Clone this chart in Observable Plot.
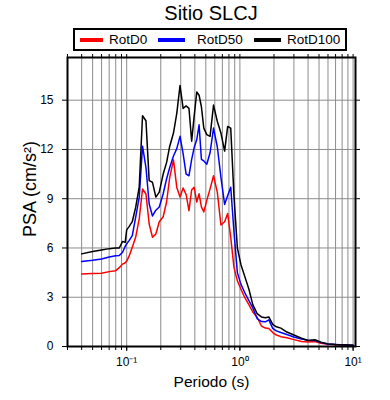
<!DOCTYPE html>
<html>
<head>
<meta charset="utf-8">
<script src="https://cdn.jsdelivr.net/npm/d3@7"></script>
<script src="https://cdn.jsdelivr.net/npm/@observablehq/plot@0.6"></script>
<style>
  body { margin: 0; background: #fff; font-family: "Liberation Sans", Arial, sans-serif; }
  #wrap { position: relative; width: 390px; height: 400px; overflow: hidden; }
  #title { position: absolute; left: 67px; width: 288px; top: 1px; text-align: center; font-size: 20px; line-height: 24px; color: #000; }
  #legend { position: absolute; left: 73px; top: 28px; width: 274px; height: 23px; border: 2px solid #000; box-sizing: border-box; font-size: 13.5px; }
  .sw { position: absolute; top: 8px; height: 4px; width: 24px; }
  .lb { position: absolute; top: 2px; line-height: 16px; }
  #chart { position: absolute; left: 0; top: 52px; }
</style>
</head>
<body>
<div id="wrap">
  <div id="title">Sitio SLCJ</div>
  <div id="legend"></div>
  <div id="chart"></div>
</div>
<script>
// Periods (s)
const periods = [0.04, 0.05, 0.06, 0.07, 0.08, 0.086, 0.092, 0.097, 0.1, 0.105,
  0.112, 0.12, 0.129, 0.138, 0.148, 0.158, 0.169, 0.181, 0.194, 0.21,
  0.225, 0.24, 0.259, 0.277, 0.296, 0.315, 0.335, 0.355, 0.375, 0.394,
  0.416, 0.436, 0.457, 0.48, 0.51, 0.545, 0.585, 0.632, 0.68, 0.733,
  0.78, 0.83, 0.886, 0.95, 1.02, 1.1, 1.2, 1.3, 1.42, 1.55,
  1.68, 1.8, 1.95, 2.1, 2.3, 2.6, 3.0, 3.5, 4.0, 4.6,
  5.2, 6.0, 7.0, 8.5, 10];

const rotD0 = [4.42, 4.44, 4.46, 4.56, 4.62, 4.8, 5.02, 5.1, 5.2, 5.5,
  6.05, 6.65, 7.77, 9.59, 9.29, 7.46, 6.65, 6.85, 7.6, 7.9,
  8.8, 10.3, 11.36, 9.69, 9.1, 9.65, 9.25, 8.27, 9.55, 9.7,
  8.8, 9.3, 8.5, 8.2, 8.9, 9.6, 10.4, 9.39, 7.4, 7.6,
  8.1, 6.65, 4.82, 4.0, 3.5, 3.0, 2.55, 2.1, 1.78, 1.25,
  1.12, 1.1, 0.85, 0.7, 0.6, 0.53, 0.42, 0.3, 0.28, 0.3,
  0.2, 0.14, 0.1, 0.08, 0.06];

const rotD50 = [5.17, 5.25, 5.33, 5.45, 5.52, 5.54, 5.74, 6.1, 6.25, 6.45,
  6.75, 7.86, 9.08, 12.2, 10.9, 8.68, 7.95, 8.3, 8.5, 9.3,
  10.2, 10.9, 11.6, 12.05, 12.8, 11.75, 10.5, 10.4, 11.4, 12.1,
  12.6, 13.5, 11.4, 11.3, 11.1, 11.8, 13.3, 12.15, 10.3, 8.65,
  9.2, 9.7, 7.0, 4.5, 3.8, 3.3, 2.8, 2.35, 1.7, 1.52,
  1.5, 1.62, 1.1, 0.95, 0.85, 0.73, 0.58, 0.45, 0.38, 0.36,
  0.24, 0.15, 0.12, 0.09, 0.08];

const rotD100 = [5.64, 5.78, 5.88, 5.96, 6.0, 6.0, 6.4, 6.34, 7.1, 7.3,
  7.6, 8.47, 9.7, 14.05, 13.75, 10.1, 10.0, 9.1, 9.4, 10.5,
  11.2, 12.2, 13.0, 14.2, 15.9, 14.5, 14.65, 14.5, 12.5, 14.0,
  15.5, 15.3, 14.6, 13.3, 12.9, 12.8, 14.7, 13.7, 13.0, 11.9,
  13.4, 13.3, 9.2, 6.0, 5.0, 4.3, 3.5, 2.55, 2.0, 1.8,
  1.75, 1.8, 1.35, 1.2, 1.12, 0.88, 0.7, 0.5, 0.37, 0.41,
  0.26, 0.16, 0.12, 0.1, 0.08];

const seriesNames = ["RotD0", "RotD50", "RotD100"];
const seriesColors = ["#ff0000", "#0000ff", "#000000"];
const seriesValues = [rotD0, rotD50, rotD100];

const yTicks = [0, 3, 6, 9, 12, 15];
const xMajor = [0.1, 1, 10];
const xMajorLabels = ["10\u207B\u00B9", "10\u2070", "10\u00B9"];
const xMinor = [];
for (const e of [-2, -1, 0]) for (let m = 1; m <= 9; m++) {
  const v = m * Math.pow(10, e);
  if (v >= 0.03) xMinor.push(+v.toPrecision(3));
}
xMinor.push(10);

const data = [];
seriesNames.forEach((name, i) => {
  periods.forEach((p, j) => data.push({period: p, psa: seriesValues[i][j], series: name}));
});

const majorLabel = d => xMajorLabels[Math.round(Math.log10(d)) + 1];

// legend
const legend = document.getElementById("legend");
const swLeft = [5, 83, 179];
const lbLeft = [34, 122, 212];
seriesNames.forEach((name, i) => {
  const s = document.createElement("div");
  s.className = "sw"; s.style.left = swLeft[i] + "px"; s.style.background = seriesColors[i];
  s.style.width = (i === 0 ? 23 : 27) + "px";
  legend.appendChild(s);
  const l = document.createElement("div");
  l.className = "lb"; l.style.left = lbLeft[i] + "px"; l.textContent = name;
  legend.appendChild(l);
});

const chart = Plot.plot({
  width: 390,
  height: 348,
  marginTop: 5,
  marginBottom: 54,
  marginLeft: 67,
  marginRight: 35,
  style: {fontFamily: "Liberation Sans, Arial, sans-serif", fontSize: "11.5px", color: "#000", background: "#fff"},
  x: {type: "log", domain: [0.03, 10.5]},
  y: {domain: [0, 17.6]},
  color: {domain: seriesNames, range: seriesColors},
  marks: [
    Plot.gridX(xMinor, {stroke: "#8c8c8c", strokeOpacity: 1, strokeWidth: 1}),
    Plot.gridY(yTicks.slice(1), {stroke: "#8c8c8c", strokeOpacity: 1, strokeWidth: 1}),
    Plot.line(data, {x: "period", y: "psa", stroke: "series", z: "series", strokeWidth: 1.5}),
    Plot.frame({stroke: "#000", strokeWidth: 2}),
    Plot.axisX(xMinor, {anchor: "bottom", tickSize: 4, tickFormat: () => "", label: null}),
    Plot.axisX(xMinor, {anchor: "top", tickSize: 4, tickFormat: () => "", label: null}),
    Plot.axisX(xMajor, {anchor: "bottom", tickSize: 5, tickPadding: 6, fontSize: 12,
      tickFormat: majorLabel, label: null}),
    Plot.axisY(yTicks, {anchor: "left", tickSize: 5, tickPadding: 9, fontSize: 12, label: null}),
    Plot.axisY(yTicks, {anchor: "right", tickSize: 4, tickFormat: () => "", label: null}),
    Plot.text(["Periodo (s)"], {frameAnchor: "bottom", textAnchor: "middle", dy: 40, fontSize: 15.5, fill: "#000"}),
    Plot.text(["PSA (cm/s\u00B2)"], {frameAnchor: "left", textAnchor: "middle", dx: -37, dy: -13, rotate: -90, fontSize: 18, fill: "#000"})
  ]
});
document.getElementById("chart").appendChild(chart);
</script>
</body>
</html>
